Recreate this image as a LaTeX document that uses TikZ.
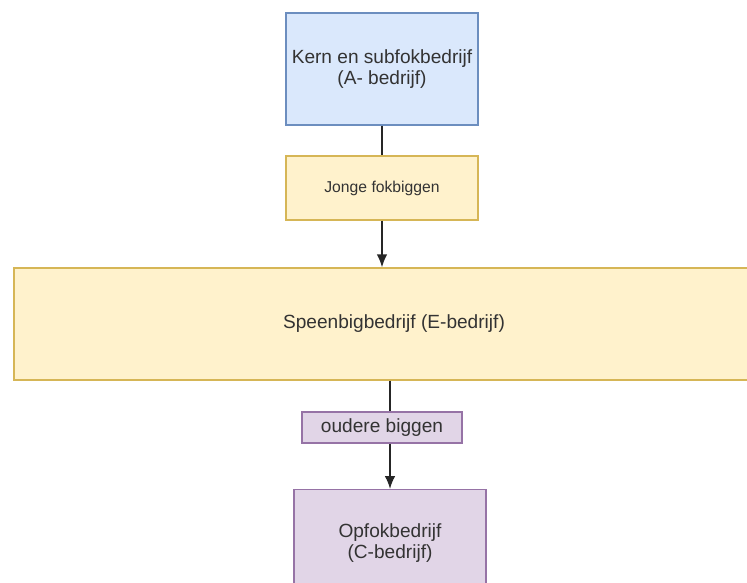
\documentclass[tikz,border=0pt]{standalone}
\usepackage{fontspec}
\setmainfont{Liberation Sans}
\usetikzlibrary{arrows.meta}
\tikzset{>={Latex[length=11pt, width=9pt]}}
\definecolor{cbl}{HTML}{DAE8FC}
\definecolor{cbd}{HTML}{6C8EBF}
\definecolor{cyl}{HTML}{FFF2CC}
\definecolor{cyd}{HTML}{D6B656}
\definecolor{cpl}{HTML}{E1D5E7}
\definecolor{cpd}{HTML}{9673A6}
\definecolor{ctx}{gray}{.2}
\tikzset{bx/.style={draw, line width=1.1pt, inner sep=0pt, align=center, text=ctx,
    font=\fontsize{16.3}{18}\selectfont}}
\tikzset{ln/.style={line width=1.5pt, black!85}}

\begin{document}
\begin{tikzpicture}[x=.03cm, y=-.03cm]
    \useasboundingbox(0, 0) rectangle (747, 583);
    \clip(0, 0) rectangle (747, 583);
    \node[bx, fill=cbl, draw=cbd, minimum width=5.76cm, minimum height=3.36cm](kern) at(382, 69)
        {Kern en subfokbedrijf\\(A- bedrijf)};
    \node[bx, fill=cyl, draw=cyd, minimum width=5.76cm, minimum height=1.92cm,
        font=\fontsize{13.4}{15}\selectfont](jong) at(382, 188){Jonge fokbiggen};
    \node[bx, fill=cyl, draw=cyd, minimum width=22.8cm, minimum height=3.36cm](speen) at(394, 324)
        {Speenbigbedrijf (E-bedrijf)};
    \node[bx, fill=cpl, draw=cpd, minimum width=4.8cm, minimum height=.93cm](oud) at(382, 427.5)
        {oudere biggen};
    \node[bx, fill=cpl, draw=cpd, minimum width=5.76cm, minimum height=3.2cm](opfok) at(390, 543)
        {Opfokbedrijf\\(C-bedrijf)};
    \draw[ln](kern)--(jong);
    \draw[ln, ->](jong.south)--(jong.south |- speen.north);
    \draw[ln](speen.south -| opfok.north)--(oud.north -| opfok.north);
    \draw[ln, ->](oud.south -| opfok.north)--(opfok.north);
\end{tikzpicture}
\end{document}
